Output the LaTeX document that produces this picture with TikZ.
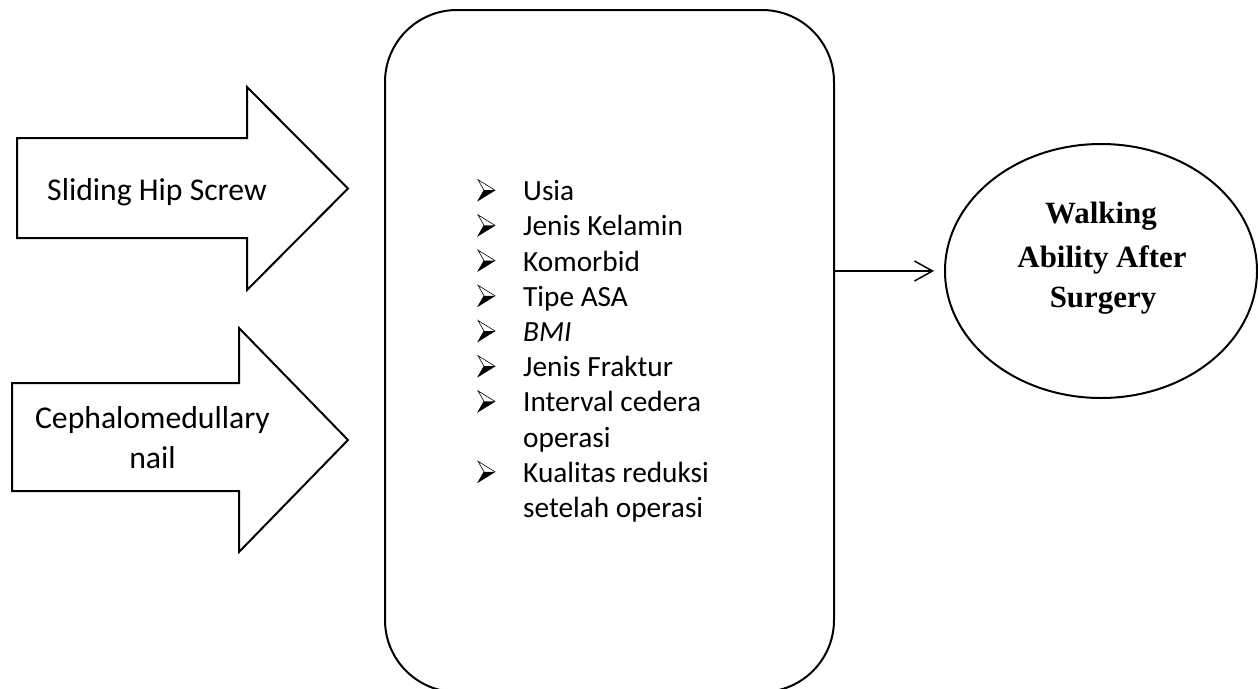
\documentclass[tikz,border=0pt]{standalone}
\usepackage{fontspec}
\setmainfont{Carlito}
\newfontfamily\serifout{Liberation Serif}
\usetikzlibrary{arrows.meta,shapes.geometric}
\tikzset{
  outline/.style={draw=black,line width=2pt,line join=miter},
  arrtext/.style={font=\fontsize{31.7}{38}\selectfont,inner sep=0pt,anchor=base},
  listtext/.style={font=\fontsize{29.3}{35.2}\selectfont,inner sep=0pt,anchor=base west},
  outtext/.style={font=\serifout\bfseries\fontsize{30.9}{42}\selectfont,inner sep=0pt,anchor=base},
  bulletmark/.pic={
    \fill[black] (6,-10.5) -- (17,-10.5) -- (0,0) -- cycle;
    \draw[line width=0.6pt,line join=miter] (0,-21) -- (17,-10.5) -- (0,0) -- (6,-10.5) -- cycle;
  }
}
\begin{document}
\begin{tikzpicture}[x=1pt,y=-1pt]
\useasboundingbox (0,0) rectangle (1258,688);

% input arrows
\draw[outline] (17,138) -- (247,138) -- (247,87) -- (348,188.5) -- (247,290) -- (247,238) -- (17,238) -- cycle;
\node[arrtext] (shs) at (157,200) {Sliding Hip Screw};

\draw[outline] (12,383) -- (239,383) -- (239,328) -- (348,440) -- (239,552) -- (239,491) -- (12,491) -- cycle;
\node[arrtext] (cmn1) at (152.5,428) {Cephalomedullary};
\node[arrtext] (cmn2) at (152.5,468) {nail};

% central box
\node[outline,rounded corners=72pt,minimum width=449pt,minimum height=682pt,inner sep=0pt] (box) at (609.5,351) {};

\pic at (478,200.7) {bulletmark};
\node[listtext] (l1) at (523,200.7) {Usia};
\pic at (478,235.9) {bulletmark};
\node[listtext] (l2) at (523,235.9) {Jenis Kelamin};
\pic at (478,271.1) {bulletmark};
\node[listtext] (l3) at (523,271.1) {Komorbid};
\pic at (478,306.3) {bulletmark};
\node[listtext] (l4) at (523,306.3) {Tipe ASA};
\pic at (478,341.5) {bulletmark};
\node[listtext] (l5) at (523,341.5) {\itshape BMI};
\pic at (478,376.7) {bulletmark};
\node[listtext] (l6) at (523,376.7) {Jenis Fraktur};
\pic at (478,411.9) {bulletmark};
\node[listtext] (l7) at (523,411.9) {Interval cedera};
\node[listtext] (l8) at (523,447.1) {operasi};
\pic at (478,482.3) {bulletmark};
\node[listtext] (l9) at (523,482.3) {Kualitas reduksi};
\node[listtext] (l10) at (523,517.5) {setelah operasi};

% outcome ellipse
\node[outline,ellipse,minimum width=312pt,minimum height=254pt,inner sep=0pt] (ell) at (1101,271) {};
\node[outtext] (o1) at (1101,223) {Walking};
\node[outtext] (o2) at (1102,267) {Ability After};
\node[outtext] (o3) at (1103,307) {Surgery};

% connector
\draw[line width=1.5pt,-{Straight Barb[length=18pt,width=20pt]}] (box.east |- ell.west) -- ([xshift=-10pt]ell.west);
\end{tikzpicture}
\end{document}
